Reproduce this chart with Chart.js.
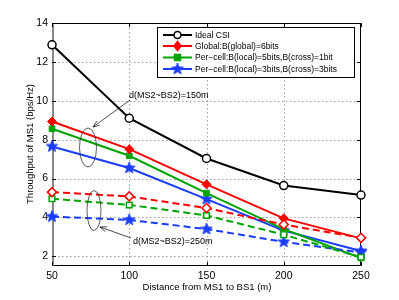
<!DOCTYPE html>
<html><head><meta charset="utf-8">
<script src="https://cdn.jsdelivr.net/npm/chart.js@4.4.1/dist/chart.umd.min.js"></script>
<style>html,body{margin:0;padding:0;background:#fff;}#wrap{width:399px;height:300px;}</style>
</head><body><div id="wrap"><canvas id="c" width="399" height="300"></canvas></div>
<script>
const distances = [50, 100, 150, 200, 250];
const xTicks = [50, 100, 150, 200, 250];
const yTicks = [2, 4, 6, 8, 10, 12, 14];
const idealCSI = [12.88, 9.1, 7.03, 5.64, 5.15];
const global150 = [8.93, 7.51, 5.7, 3.95, 2.92];
const perCell51_150 = [8.56, 7.17, 5.25, 3.4, 1.91];
const perCell33_150 = [7.65, 6.54, 4.94, 3.32, 2.27];
const global250 = [5.3, 5.08, 4.48, 3.63, 2.95];
const perCell51_250 = [4.96, 4.64, 4.1, 3.11, 1.95];
const perCell33_250 = [4.04, 3.87, 3.4, 2.74, 2.2];
const legendLabels = ['Ideal CSI', 'Global:B(global)=6bits', 'Per\u2212cell:B(local)=5bits,B(cross)=1bit', 'Per\u2212cell:B(local)=3bits,B(cross)=3bits'];

const RED = '#ff0000', GREEN = '#00a400', BLUE = '#1a3cff', BLACK = '#000000';
const FONT = '"Liberation Sans", Arial, Helvetica, sans-serif';

function starCanvas(color, r) {
  const s = Math.ceil(r * 2 + 2);
  const cv = document.createElement('canvas');
  cv.width = s; cv.height = s;
  const g = cv.getContext('2d');
  g.beginPath();
  for (let i = 0; i < 10; i++) {
    const rr = i % 2 === 0 ? r : r * 0.42;
    const a = -Math.PI / 2 + i * Math.PI / 5;
    const px = s / 2 + rr * Math.cos(a), py = s / 2 + rr * Math.sin(a);
    if (i === 0) g.moveTo(px, py); else g.lineTo(px, py);
  }
  g.closePath();
  g.fillStyle = color; g.fill();
  g.strokeStyle = color; g.lineWidth = 1; g.stroke();
  return cv;
}
const starImg = starCanvas(BLUE, 6);

function pts(arr) { return arr.map((v, i) => ({x: distances[i], y: v})); }

const datasets = [
  {data: pts(global250), borderColor: RED, borderDash: [7, 4], borderWidth: 2, pointStyle: 'rectRot', pointRadius: 4.5, pointBackgroundColor: '#fff', pointBorderColor: RED, pointBorderWidth: 1.5},
  {data: pts(perCell51_250), borderColor: GREEN, borderDash: [7, 4], borderWidth: 2, pointStyle: 'rect', pointRadius: 4, pointBackgroundColor: '#fff', pointBorderColor: GREEN, pointBorderWidth: 1.5},
  {data: pts(perCell33_250), borderColor: BLUE, borderDash: [7, 4], borderWidth: 2, pointStyle: starImg, pointRadius: 6},
  {data: pts(idealCSI), borderColor: BLACK, borderWidth: 2, pointStyle: 'circle', pointRadius: 4, pointBackgroundColor: '#fff', pointBorderColor: BLACK, pointBorderWidth: 1.5},
  {data: pts(global150), borderColor: RED, borderWidth: 2, pointStyle: 'rectRot', pointRadius: 4.5, pointBackgroundColor: RED, pointBorderColor: RED, pointBorderWidth: 1},
  {data: pts(perCell51_150), borderColor: GREEN, borderWidth: 2, pointStyle: 'rect', pointRadius: 4, pointBackgroundColor: GREEN, pointBorderColor: GREEN, pointBorderWidth: 1},
  {data: pts(perCell33_150), borderColor: BLUE, borderWidth: 2, pointStyle: starImg, pointRadius: 6}
];
datasets.forEach(d => { d.fill = false; d.tension = 0; d.clip = false; });

function drawMarker(ctx, kind, x, y, color, filled) {
  ctx.save();
  ctx.strokeStyle = color; ctx.fillStyle = filled ? color : '#fff'; ctx.lineWidth = 1.5;
  ctx.setLineDash([]);
  if (kind === 'circle') { ctx.beginPath(); ctx.arc(x, y, 3.5, 0, Math.PI * 2); ctx.fill(); ctx.stroke(); }
  else if (kind === 'diamond') { ctx.beginPath(); ctx.moveTo(x, y - 4.5); ctx.lineTo(x + 3.5, y); ctx.lineTo(x, y + 4.5); ctx.lineTo(x - 3.5, y); ctx.closePath(); ctx.fill(); ctx.stroke(); }
  else if (kind === 'square') { ctx.fillRect(x - 3, y - 3, 6, 6); ctx.strokeRect(x - 3, y - 3, 6, 6); }
  else if (kind === 'star') { ctx.drawImage(starImg, x - starImg.width / 2, y - starImg.height / 2); }
  ctx.restore();
}

const gridPlugin = {
  id: 'dotgrid',
  beforeDatasetsDraw(chart) {
    const ctx = chart.ctx, a = chart.chartArea, xs = chart.scales.x, ys = chart.scales.y;
    ctx.save();
    ctx.fillStyle = '#a0a0a0';
    xTicks.forEach(v => {
      const px = Math.round(xs.getPixelForValue(v));
      if (px <= a.left + 1 || px >= a.right - 1) return;
      for (let y = a.bottom - 2; y > a.top; y -= 4) ctx.fillRect(px, y, 1, 1.5);
    });
    yTicks.forEach(v => {
      const py = Math.round(ys.getPixelForValue(v));
      if (py <= a.top + 1 || py >= a.bottom - 1) return;
      for (let x = a.left + 2; x < a.right; x += 4) ctx.fillRect(x, py, 1.5, 1);
    });
    // frame under the data
    ctx.strokeStyle = '#000'; ctx.lineWidth = 1;
    ctx.beginPath();
    ctx.moveTo(a.left, a.top + 0.5); ctx.lineTo(a.right - 0.5, a.top + 0.5); ctx.lineTo(a.right - 0.5, a.bottom - 0.5); ctx.lineTo(a.left, a.bottom - 0.5);
    ctx.stroke();
    ctx.strokeStyle = '#888'; ctx.lineWidth = 2;
    ctx.beginPath(); ctx.moveTo(a.left + 1, a.top); ctx.lineTo(a.left + 1, a.bottom); ctx.stroke();
    ctx.strokeStyle = '#000'; ctx.lineWidth = 1;
    ctx.beginPath();
    xTicks.forEach(v => { const px = Math.round(xs.getPixelForValue(v)) + 0.5; ctx.moveTo(px, a.bottom); ctx.lineTo(px, a.bottom - 4); ctx.moveTo(px, a.top); ctx.lineTo(px, a.top + 4); });
    yTicks.forEach(v => { const py = Math.round(ys.getPixelForValue(v)) + 0.5; ctx.moveTo(a.left, py); ctx.lineTo(a.left + 4, py); ctx.moveTo(a.right, py); ctx.lineTo(a.right - 4, py); });
    ctx.stroke();
    ctx.restore();
  }
};

const overlay = {
  id: 'overlay',
  afterDraw(chart) {
    const ctx = chart.ctx;
    ctx.save();
    ctx.setLineDash([]);
    // axis titles
    ctx.fillStyle = '#000';
    ctx.font = '9.5px ' + FONT;
    ctx.textAlign = 'center'; ctx.textBaseline = 'middle';
    ctx.fillText('Distance from MS1 to BS1 (m)', 207, 287);
    ctx.save(); ctx.translate(30, 144); ctx.rotate(-Math.PI / 2);
    ctx.fillText('Throughput of MS1 (bps/Hz)', 0, 0); ctx.restore();
    // ellipses
    ctx.strokeStyle = '#333'; ctx.lineWidth = 0.8;
    ctx.beginPath(); ctx.ellipse(88, 147.5, 8.5, 19.5, 0, 0, Math.PI * 2); ctx.stroke();
    ctx.beginPath(); ctx.ellipse(94, 210.5, 7, 20, 0, 0, Math.PI * 2); ctx.stroke();
    // arrows
    function arrow(x1, y1, x2, y2) {
      ctx.beginPath(); ctx.moveTo(x1, y1); ctx.lineTo(x2, y2); ctx.stroke();
      const ang = Math.atan2(y2 - y1, x2 - x1), L = 7, w = 0.38;
      ctx.beginPath();
      ctx.moveTo(x2 - L * Math.cos(ang - w), y2 - L * Math.sin(ang - w));
      ctx.lineTo(x2, y2);
      ctx.lineTo(x2 - L * Math.cos(ang + w), y2 - L * Math.sin(ang + w));
      ctx.stroke();
    }
    ctx.strokeStyle = '#000'; ctx.lineWidth = 0.7;
    arrow(130, 100, 93, 127);
    arrow(131, 238, 100, 227);
    ctx.font = '9px ' + FONT; ctx.textAlign = 'left';
    ctx.fillText('d(MS2~BS2)=150m', 129, 96);
    ctx.fillText('d(MS2~BS2)=250m', 133, 242);
    // legend
    const lx = 157, ly = 27, lw = 197, lh = 50;
    ctx.fillStyle = '#fff'; ctx.fillRect(lx, ly, lw, lh);
    ctx.strokeStyle = '#000'; ctx.lineWidth = 1; ctx.strokeRect(lx + 0.5, ly + 0.5, lw, lh);
    const rows = [35, 46, 57.5, 69];
    const cols = [BLACK, RED, GREEN, BLUE];
    const kinds = ['circle', 'diamond', 'square', 'star'];
    ctx.font = '8.5px ' + FONT; ctx.textAlign = 'left'; ctx.textBaseline = 'middle';
    rows.forEach((ry, i) => {
      ctx.strokeStyle = cols[i]; ctx.lineWidth = 2;
      ctx.beginPath(); ctx.moveTo(163, ry); ctx.lineTo(192, ry); ctx.stroke();
      drawMarker(ctx, kinds[i], 177.5, ry, cols[i], i !== 0);
      ctx.fillStyle = '#000';
      ctx.fillText(legendLabels[i], 195, ry + 0.5);
    });
    ctx.restore();
  }
};

new Chart(document.getElementById('c'), {
  type: 'line',
  data: {datasets},
  options: {
    responsive: false, animation: false, devicePixelRatio: 1,
    layout: {padding: {left: 0, right: 38, top: 23, bottom: 0}},
    plugins: {legend: {display: false}, tooltip: {enabled: false}},
    scales: {
      x: {
        type: 'linear', min: 50, max: 250,
        afterFit(s) { s.height = 34; },
        afterBuildTicks(s) { s.ticks = xTicks.map(v => ({value: v})); },
        grid: {display: false, drawTicks: false},
        border: {display: false},
        ticks: {color: '#000', font: {family: FONT, size: 10.5}, padding: 4, maxRotation: 0}
      },
      y: {
        type: 'linear', min: 1.5, max: 14,
        afterFit(s) { s.width = 52; },
        afterBuildTicks(s) { s.ticks = yTicks.map(v => ({value: v})); },
        grid: {display: false, drawTicks: false},
        border: {display: false},
        ticks: {color: '#000', font: {family: FONT, size: 10.5}, padding: 4}
      }
    }
  },
  plugins: [gridPlugin, overlay]
});
</script>
</body></html>
